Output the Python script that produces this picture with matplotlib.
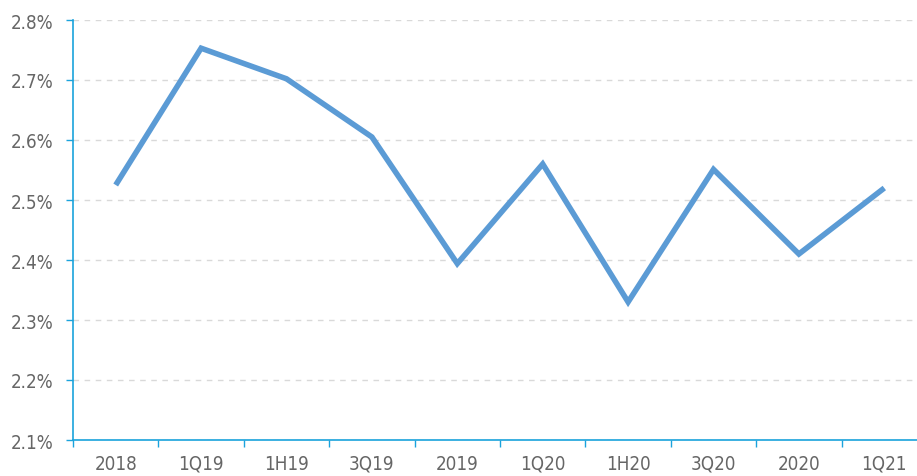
import matplotlib.pyplot as plt
from matplotlib.ticker import FixedLocator, FuncFormatter
from matplotlib import font_manager

categories = ['2018', '1Q19', '1H19', '3Q19', '2019', '1Q20', '1H20', '3Q20', '2020', '1Q21']
values = [2.525, 2.753, 2.702, 2.605, 2.394, 2.560, 2.330, 2.551, 2.410, 2.520]
y_ticks = [2.1, 2.2, 2.3, 2.4, 2.5, 2.6, 2.7, 2.8]

# condensed face if one is installed, otherwise plain Liberation Sans
fonts = font_manager.fontManager.ttflist
narrow = [f for f in fonts if 'Narrow' in f.name or ('DejaVu Sans' in f.name and f.stretch == 'condensed')]
if any(f.name == 'Liberation Sans Narrow' for f in fonts):
    font_kw = dict(family='Liberation Sans Narrow', size=15)
elif narrow:
    font_kw = dict(family=narrow[0].name, stretch='condensed', size=13.5)
else:
    font_kw = dict(family='Liberation Sans', size=14)

text_color = '#666666'
axis_color = '#1AA3DC'

fig = plt.figure(figsize=(9.17, 4.77), dpi=100)
ax = fig.add_axes([73 / 917, 36 / 477, 854 / 917, 420 / 477])

x = list(range(len(categories)))
ax.plot(x, values, color='#5B9BD5', linewidth=4.0, solid_capstyle='butt', solid_joinstyle='miter', zorder=3)

ax.set_xlim(-0.5, len(categories) - 0.5)
ax.set_ylim(2.1, 2.8)
ax.set_yticks(y_ticks)
ax.yaxis.set_major_formatter(FuncFormatter(lambda v, p: f'{v:.1f}%'))
ax.set_xticks(x)
ax.set_xticklabels(categories)
ax.xaxis.set_minor_locator(FixedLocator([i - 0.5 for i in range(len(categories) + 1)]))

ax.tick_params(axis='x', which='major', length=0, pad=10, labelcolor=text_color)
ax.tick_params(axis='x', which='minor', length=5, width=1, color=axis_color, direction='out')
ax.tick_params(axis='y', which='major', length=5, width=1, color=axis_color, pad=9, labelcolor=text_color)
for lab in ax.get_xticklabels() + ax.get_yticklabels():
    lab.set(**font_kw)

ax.grid(axis='y', color='#D9D9D9', linestyle=(0, (4, 4)), linewidth=1)
ax.set_axisbelow(True)

for side in ['top', 'right']:
    ax.spines[side].set_visible(False)
for side in ['left', 'bottom']:
    ax.spines[side].set_color(axis_color)
    ax.spines[side].set_linewidth(1.2)

fig.savefig('out.png', dpi=100)
